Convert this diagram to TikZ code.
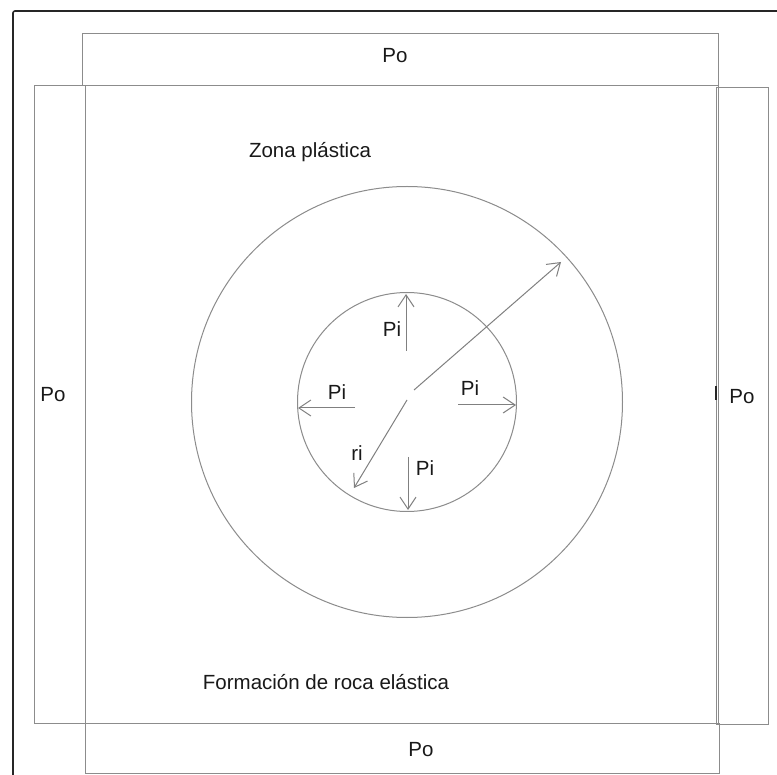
\documentclass[tikz,border=0pt]{standalone}
\usepackage{fontspec}
\setmainfont{Liberation Sans}
\usetikzlibrary{arrows.meta}
\begin{document}
\begin{tikzpicture}[x=1pt,y=-1pt,
  box/.style={draw=black!45, line width=1pt},
  ring/.style={circle, draw=black!45, line width=1pt, inner sep=0pt, fill=none},
  lbl/.style={font=\fontsize{20.5}{24}\selectfont, inner sep=0pt, text=black!90},
  force/.style={draw=black!50, line width=1pt, -{Straight Barb[length=12pt,width=16pt,line width=1pt]}}]
\useasboundingbox (0,0) rectangle (777,775);
\fill[white] (0,0) rectangle (777,775);
% outer frame
\draw[black!85, line width=1.6pt, rounded corners=2pt] (13,775) -- (13,11) -- (777,11);
% boxes
\draw[box] (82,34) rectangle (718,86);
\draw[box] (34,86) rectangle (85,723);
\draw[box] (85,86) rectangle (718,723);
\draw[box] (716,88) rectangle (768,724);
\draw[box] (85,723) rectangle (719,773);
\draw[black!85, line width=1.5pt] (716,386) -- (716,400);
% circles
\node[ring, minimum size=431pt] (outer) at (407,402) {};
\node[ring, minimum size=219pt] (inner) at (407,402) {};
% arrow coordinates
\coordinate (tA) at (406,351);
\coordinate (lA) at (355,408);
\coordinate (rA) at (458,405);
\coordinate (bA) at (408,457);
\coordinate (pA) at (414,390);
\coordinate (pB) at (561,262);
\coordinate (riA) at (407,400);
\coordinate (riB) at (354,488);
\coordinate (tB) at (406,294);
\coordinate (lB) at (298,408);
\coordinate (rB) at (516,405);
\coordinate (bB) at (408,510);
\draw[force] (tA) -- (tB);
\draw[force] (lA) -- (lB);
\draw[force] (rA) -- (rB);
\draw[force] (bA) -- (bB);
\draw[force] (pA) -- (pB);
\draw[force] (riA) -- (riB);
% labels
\node[lbl] (potop) at (395,56) {Po};
\node[lbl] (pobot) at (421,750) {Po};
\node[lbl] (poleft) at (53,395) {Po};
\node[lbl] (poright) at (742,397) {Po};
\node[lbl] (pitop) at (392,329) {Pi};
\node[lbl] (pileft) at (337,392) {Pi};
\node[lbl] (piright) at (470,388) {Pi};
\node[lbl] (pibot) at (425,468) {Pi};
\node[lbl] (ri) at (357,453) {ri};
\node[lbl] (zona) at (310,152) {Zona plástica};
\node[lbl] (form) at (326,682) {Formación de roca elástica};
\end{tikzpicture}
\end{document}
